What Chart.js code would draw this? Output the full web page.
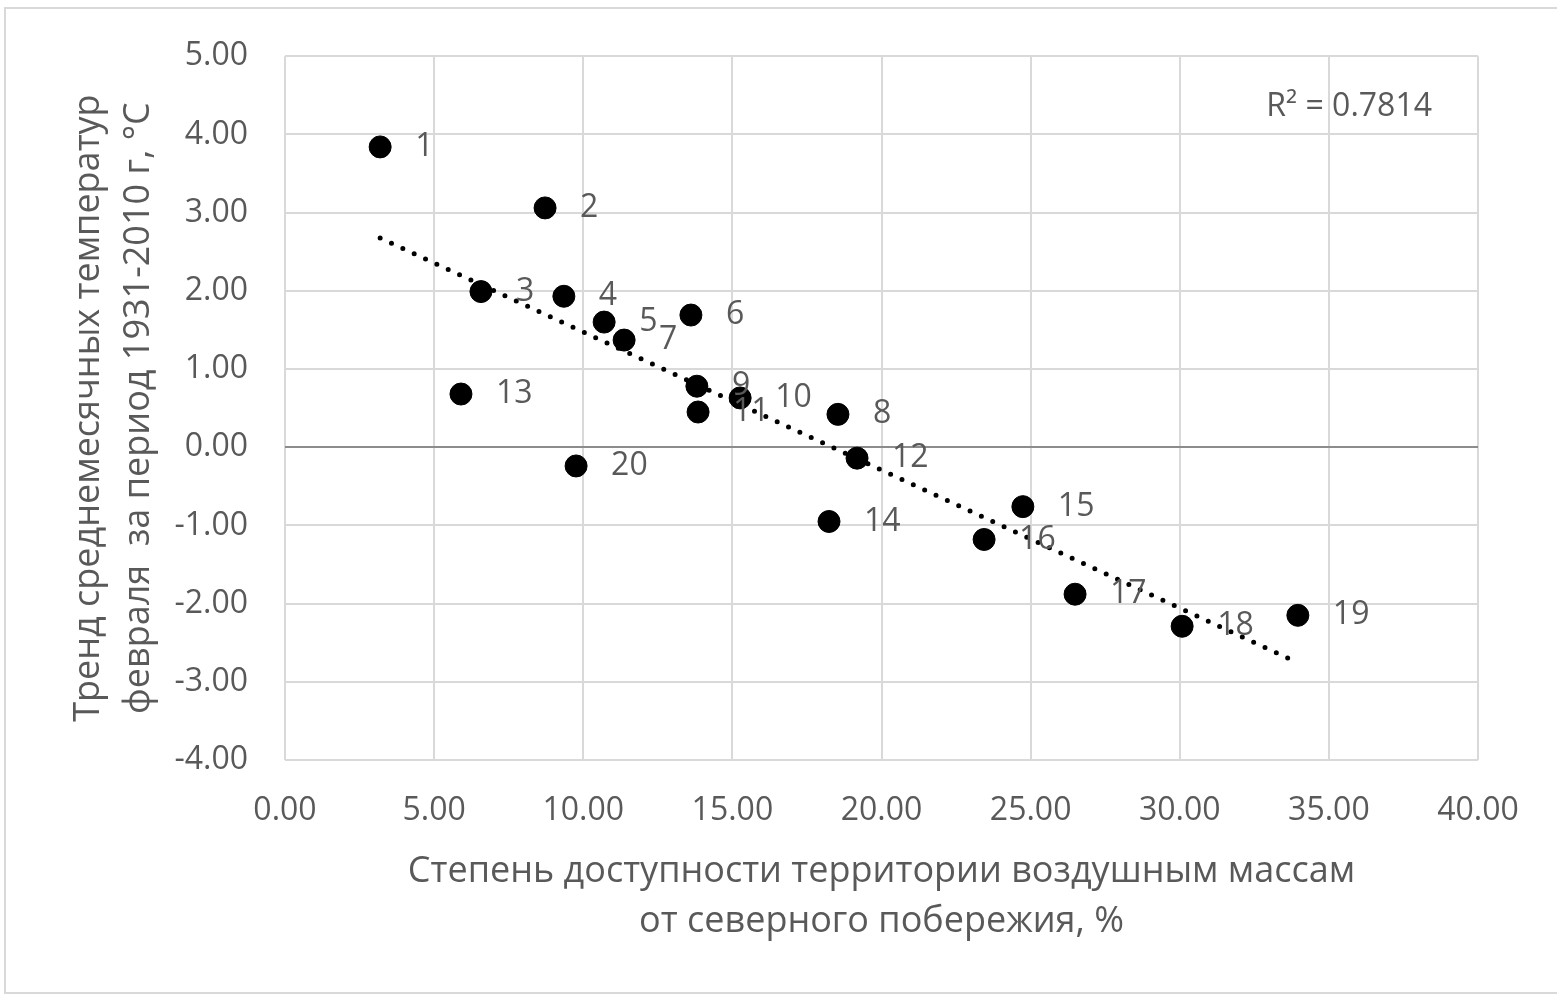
<!DOCTYPE html>
<html>
<head>
<meta charset="utf-8">
<script src="https://cdn.jsdelivr.net/npm/chart.js@4.4.1/dist/chart.umd.min.js"></script>
<style>
  html, body { margin: 0; padding: 0; background: #fff; }
  #wrap { width: 1557px; height: 995px; }
</style>
</head>
<body>
<div id="wrap"><canvas id="chart"></canvas></div>
<script>
const pointLabels = ["1", "2", "3", "4", "5", "6", "7", "8", "9", "10",
  "11", "12", "13", "14", "15", "16", "17", "18", "19", "20"];
const accessPct = [3.19, 8.72, 6.57, 9.35, 10.70, 13.61, 11.37, 18.54, 13.81, 15.26,
  13.85, 19.18, 5.90, 18.24, 24.74, 23.44, 26.49, 30.08, 33.96, 9.76];
const tempTrend = [3.84, 3.06, 1.99, 1.93, 1.60, 1.69, 1.37, 0.42, 0.78, 0.63,
  0.45, -0.14, 0.68, -0.95, -0.76, -1.18, -1.88, -2.29, -2.15, -0.24];
const r2Text = "R² = 0.7814";
const xTitle = ["Степень доступности территории воздушным массам", "от северного побережия, %"];
const yTitle = ["Тренд среднемесячных температур", "февраля  за период 1931-2010 г, °С"];

const FONT = "'Open Sans', sans-serif";
const TEXT = "#595959";

// linear trend (least squares) over the points
function linearTrend(xs, ys) {
  const n = xs.length;
  let sx = 0, sy = 0, sxx = 0, sxy = 0;
  for (let i = 0; i < n; i++) {
    sx += xs[i]; sy += ys[i];
    sxx += xs[i] * xs[i]; sxy += xs[i] * ys[i];
  }
  const b = (n * sxy - sx * sy) / (n * sxx - sx * sx);
  const a = (sy - b * sx) / n;
  const x0 = Math.min(...xs), x1 = Math.max(...xs);
  return [{ x: x0, y: a + b * x0 }, { x: x1, y: a + b * x1 }];
}

const points = accessPct.map((x, i) => ({ x: x, y: tempTrend[i] }));

const framePlugin = {
  id: "frame",
  beforeDraw(chart) {
    const ctx = chart.ctx;
    ctx.save();
    ctx.strokeStyle = "#d9d9d9";
    ctx.lineWidth = 2;
    ctx.beginPath();
    ctx.moveTo(1600, 8);
    ctx.lineTo(5, 8);
    ctx.lineTo(5, 993);
    ctx.lineTo(1600, 993);
    ctx.stroke();
    ctx.restore();
  },
};

const labelPlugin = {
  id: "pointText",
  afterDatasetsDraw(chart) {
    const ctx = chart.ctx;
    const meta = chart.getDatasetMeta(1);
    ctx.save();
    ctx.font = "32px " + FONT;
    ctx.fillStyle = TEXT;
    ctx.textAlign = "left";
    ctx.textBaseline = "middle";
    meta.data.forEach((el, i) => {
      ctx.fillText(pointLabels[i], el.x + 35, el.y);
    });
    const area = chart.chartArea;
    ctx.textAlign = "right";
    ctx.fillText(r2Text, area.right - 46, chart.scales.y.getPixelForValue(4.35));
    ctx.restore();
  },
};

new Chart(document.getElementById("chart"), {
  type: "scatter",
  data: {
    datasets: [
      {
        type: "line",
        label: "trend",
        data: linearTrend(accessPct, tempTrend),
        borderColor: "#000",
        borderWidth: 5,
        borderDash: [0, 12.5],
        borderCapStyle: "round",
        pointRadius: 0,
        fill: false,
        order: 0,
      },
      {
        label: "points",
        data: points,
        backgroundColor: "#000",
        borderColor: "#000",
        pointRadius: 11,
        pointHoverRadius: 11,
        order: 1,
      },
    ],
  },
  options: {
    responsive: true,
    maintainAspectRatio: false,
    animation: false,
    layout: { padding: { top: 54, right: 79, left: 0, bottom: 0 } },
    plugins: {
      legend: { display: false },
      tooltip: { enabled: false },
    },
    scales: {
      x: {
        type: "linear",
        min: 0,
        max: 40,
        afterFit(scale) { scale.height = 235; },
        border: { display: false },
        grid: { color: "#d9d9d9", lineWidth: 2, drawTicks: false },
        ticks: {
          stepSize: 5,
          padding: 32,
          color: TEXT,
          font: { family: FONT, size: 32 },
          callback: (v) => v.toFixed(2),
        },
        title: {
          display: true,
          text: xTitle,
          color: TEXT,
          font: { family: FONT, size: 36, lineHeight: "50px" },
          padding: { top: 0, bottom: 48 },
        },
      },
      y: {
        type: "linear",
        min: -4,
        max: 5,
        afterFit(scale) { scale.width = 285; },
        border: { display: false },
        grid: {
          color: (c) => (c.tick && c.tick.value === 0 ? "#8c8c8c" : "#d9d9d9"),
          lineWidth: 2,
          drawTicks: false,
        },
        ticks: {
          stepSize: 1,
          padding: 37,
          color: TEXT,
          font: { family: FONT, size: 32 },
          callback: (v) => v.toFixed(2),
        },
        title: {
          display: true,
          text: yTitle,
          color: TEXT,
          font: { family: FONT, size: 36, lineHeight: "50px" },
          padding: { top: 64, bottom: 0 },
        },
      },
    },
  },
  plugins: [framePlugin, labelPlugin],
});
</script>
</body>
</html>
